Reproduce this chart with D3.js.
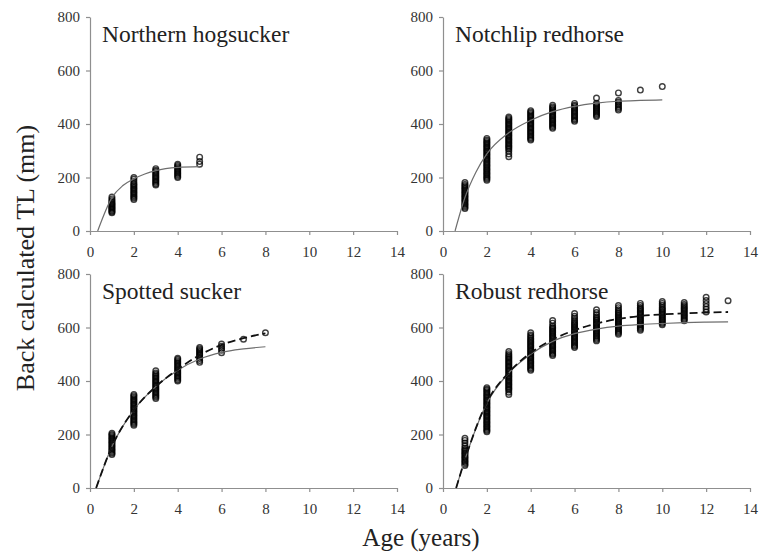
<!DOCTYPE html>
<meta charset="utf-8">
<head>
  <title>Back calculated TL by age</title>
</head>
<script src="https://d3js.org/d3.v7.min.js"></script>
<style>
  body { margin: 0; background: #fff; }
  svg text { font-family: "Liberation Serif", "Times New Roman", serif; }
  .axis path, .axis line { stroke: #8f8f8f; stroke-width: 1.2; }
  .axis text { font-size: 15px; fill: #333; font-family: "Liberation Serif", serif; }
  .title { font-size: 23.5px; fill: #222; }
  .lab { fill: #222; }
</style>
<body>
<div id="chart"></div>
<script>
// tick labels
var xTicks = [0, 2, 4, 6, 8, 10, 12, 14];
var yTicks = [0, 200, 400, 600, 800];

// Northern hogsucker
var hogAges = [1, 2, 3, 4, 5];
var hogTL = [
  [68, 72, 76, 80, 84, 88, 92, 96, 100, 104, 108, 114, 120, 127],
  [118, 123, 128, 133, 138, 143, 148, 153, 158, 163, 168, 173, 178, 185, 193, 200],
  [172, 177, 182, 187, 192, 197, 202, 207, 212, 217, 222, 227, 233],
  [200, 205, 210, 215, 220, 225, 230, 235, 240, 245, 250],
  [250, 260, 276]
];
var hogFitAge = [0.35, 1, 1.5, 2, 2.5, 3, 4, 5];
var hogFitTL = [0, 125, 170, 195, 213, 226, 238, 241];

// Notchlip redhorse
var notchAges = [1, 2, 3, 4, 5, 6, 7, 8, 9, 10];
var notchTL = [
  [84, 89, 94, 99, 104, 109, 114, 119, 124, 129, 134, 139, 144, 149, 154, 159, 164, 169, 174, 181],
  [190, 195, 200, 205, 210, 215, 220, 225, 230, 235, 240, 245, 250, 255, 260, 265, 270, 275, 280, 285, 290, 295, 300, 305, 310, 315, 320, 325, 330, 335, 340, 346],
  [278, 288, 298, 306, 311, 316, 321, 326, 331, 336, 341, 346, 351, 356, 361, 366, 371, 376, 381, 386, 391, 396, 401, 406, 411, 416, 421, 426],
  [340, 345, 350, 355, 360, 365, 370, 375, 380, 385, 390, 395, 400, 405, 410, 415, 420, 425, 430, 435, 440, 445, 450],
  [384, 389, 394, 399, 404, 409, 414, 419, 424, 429, 434, 439, 444, 449, 454, 459, 464, 470],
  [410, 415, 420, 425, 430, 435, 440, 445, 450, 455, 460, 465, 470, 477],
  [428, 433, 438, 443, 448, 453, 458, 463, 468, 473, 478, 497],
  [452, 458, 464, 470, 476, 482, 488, 516],
  [527],
  [540]
];
var notchFitAge = [0.55, 1, 1.5, 2, 3, 4, 5, 6, 7, 8, 9, 10];
var notchFitTL = [0, 125, 220, 288, 367, 414, 446, 466, 478, 485, 488, 490];

// Spotted sucker
var spotAges = [1, 2, 3, 4, 5, 6, 7, 8];
var spotTL = [
  [125, 130, 135, 140, 145, 150, 155, 160, 165, 170, 175, 180, 185, 190, 195, 200, 205],
  [235, 240, 245, 250, 255, 260, 265, 270, 275, 280, 285, 290, 295, 300, 305, 310, 315, 320, 325, 330, 335, 340, 345, 350],
  [335, 340, 345, 350, 355, 360, 365, 370, 375, 380, 385, 390, 395, 400, 405, 410, 415, 420, 425, 430, 438],
  [400, 405, 410, 415, 420, 425, 430, 435, 440, 445, 450, 455, 460, 465, 470, 475, 480, 485],
  [470, 477, 484, 490, 495, 500, 505, 510, 515, 520, 525],
  [506, 515, 522, 530, 538],
  [556],
  [580]
];
var spotFitAge = [0.28, 1, 2, 3, 4, 5, 6, 7, 8];
var spotFitTL = [0, 155, 292, 379, 440, 482, 507, 520, 528];
var spotFit2TL = [0, 155, 292, 379, 443, 497, 535, 560, 578];

// Robust redhorse
var robAges = [1, 2, 3, 4, 5, 6, 7, 8, 9, 10, 11, 12, 13];
var robTL = [
  [84, 89, 94, 99, 104, 109, 114, 119, 124, 129, 134, 139, 144, 150, 158, 168, 178, 186],
  [210, 215, 220, 225, 230, 235, 240, 245, 250, 255, 260, 265, 270, 275, 280, 285, 290, 295, 300, 305, 310, 315, 320, 325, 330, 335, 340, 345, 350, 355, 360, 365, 370, 375],
  [350, 358, 366, 371, 376, 381, 386, 391, 396, 401, 406, 411, 416, 421, 426, 431, 436, 441, 446, 451, 456, 461, 466, 471, 476, 481, 486, 491, 496, 502, 510],
  [440, 445, 450, 455, 460, 465, 470, 475, 480, 485, 490, 495, 500, 505, 510, 515, 520, 525, 530, 535, 540, 545, 550, 555, 560, 566, 572, 580],
  [495, 500, 505, 510, 515, 520, 525, 530, 535, 540, 545, 550, 555, 560, 565, 570, 575, 580, 585, 590, 595, 600, 606, 616, 626],
  [525, 530, 535, 540, 545, 550, 555, 560, 565, 570, 575, 580, 585, 590, 595, 600, 605, 610, 615, 621, 627, 635, 642, 652],
  [550, 555, 560, 565, 570, 575, 580, 585, 590, 595, 600, 605, 610, 615, 620, 625, 630, 635, 640, 648, 656, 666],
  [575, 580, 585, 590, 595, 600, 605, 610, 615, 620, 625, 630, 635, 640, 645, 650, 655, 660, 666, 674, 682],
  [590, 595, 600, 605, 610, 615, 620, 625, 630, 635, 640, 645, 650, 655, 660, 665, 670, 675, 682, 690],
  [610, 615, 620, 625, 630, 635, 640, 645, 650, 655, 660, 665, 670, 676, 683, 690, 697],
  [625, 630, 635, 640, 645, 650, 655, 660, 665, 670, 675, 680, 686, 693],
  [658, 668, 678, 689, 701, 713],
  [700]
];
var robFitAge = [0.6, 1, 2, 3, 4, 5, 6, 7, 8, 9, 10, 11, 12, 13];
var robFitTL = [0, 106, 317, 430, 500, 548, 577, 594, 605, 611, 615, 618, 620, 621];
var robFit2TL = [0, 106, 320, 432, 505, 555, 590, 615, 632, 643, 649, 653, 656, 658];

var panels = [
  { title: "Northern hogsucker", ages: hogAges, tl: hogTL, fitAge: hogFitAge, fit: hogFitTL, fit2: null, left: 90, top: 17 },
  { title: "Notchlip redhorse", ages: notchAges, tl: notchTL, fitAge: notchFitAge, fit: notchFitTL, fit2: null, left: 443, top: 17 },
  { title: "Spotted sucker", ages: spotAges, tl: spotTL, fitAge: spotFitAge, fit: spotFitTL, fit2: spotFit2TL, left: 90, top: 274 },
  { title: "Robust redhorse", ages: robAges, tl: robTL, fitAge: robFitAge, fit: robFitTL, fit2: robFit2TL, left: 443, top: 274 }
];

var W = 307, H = 214;

var svg = d3.select("#chart")
  .append("svg")
  .attr("width", 766)
  .attr("height", 556);

svg.append("rect").attr("width", 766).attr("height", 556).attr("fill", "#fff");

panels.forEach(function (p) {
  var g = svg.append("g")
    .attr("transform", "translate(" + p.left + "," + p.top + ")");

  var x = d3.scaleLinear().domain([0, 14]).range([0, W]);
  var y = d3.scaleLinear().domain([0, 800]).range([H, 0]);

  g.append("g")
    .attr("class", "axis")
    .attr("transform", "translate(0," + H + ")")
    .call(d3.axisBottom(x).tickValues(xTicks).tickSize(4).tickSizeOuter(0).tickPadding(11))
    .attr("font-family", null);
  g.append("g")
    .attr("class", "axis")
    .call(d3.axisLeft(y).tickValues(yTicks).tickSize(4).tickSizeOuter(0).tickPadding(6))
    .attr("font-family", null);

  g.append("text")
    .attr("class", "title")
    .attr("x", 12)
    .attr("y", 25)
    .text(p.title);

  // points
  var pts = [];
  p.ages.forEach(function (a, i) {
    p.tl[i].forEach(function (v) { pts.push({ age: a, tl: v }); });
  });
  g.append("g")
    .selectAll("circle")
    .data(pts)
    .enter()
    .append("circle")
    .attr("cx", function (d) { return x(d.age); })
    .attr("cy", function (d) { return y(d.tl); })
    .attr("r", 2.8)
    .attr("fill", "none")
    .attr("stroke", "#000")
    .attr("stroke-opacity", 0.75)
    .attr("stroke-width", 1.4);

  var line = d3.line()
    .curve(d3.curveMonotoneX)
    .x(function (d) { return x(d[0]); })
    .y(function (d) { return y(d[1]); });

  g.append("path")
    .datum(p.fitAge.map(function (a, i) { return [a, p.fit[i]]; }))
    .attr("d", line)
    .attr("fill", "none")
    .attr("stroke", "#6e6e6e")
    .attr("stroke-width", 1.2);

  if (p.fit2) {
    g.append("path")
      .datum(p.fitAge.map(function (a, i) { return [a, p.fit2[i]]; }))
      .attr("d", line)
      .attr("fill", "none")
      .attr("stroke", "#111")
      .attr("stroke-width", 1.8)
      .attr("stroke-dasharray", "8,4");
  }
});

svg.append("text")
  .attr("class", "lab")
  .attr("transform", "translate(34,258) rotate(-90)")
  .attr("text-anchor", "middle")
  .style("font-size", "26px")
  .text("Back calculated TL (mm)");

svg.append("text")
  .attr("class", "lab")
  .attr("x", 421)
  .attr("y", 546)
  .attr("text-anchor", "middle")
  .style("font-size", "25px")
  .text("Age (years)");
</script>
</body>
